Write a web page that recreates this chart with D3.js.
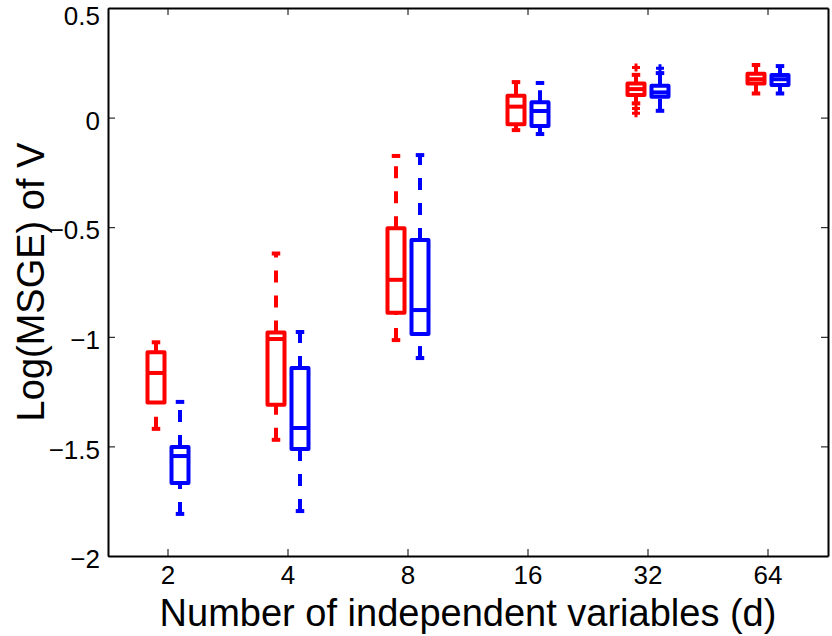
<!DOCTYPE html>
<html>
<head>
<meta charset="utf-8">
<script src="https://cdn.jsdelivr.net/npm/d3@7"></script>
<style>
  body { margin: 0; background: #fff; }
  text { font-family: "Liberation Sans", Arial, Helvetica, sans-serif; fill: #000; }
</style>
</head>
<body>
<div id="chart"></div>
<script>
const categories = ["2", "4", "8", "16", "32", "64"];
const yTicks = [-2, -1.5, -1, -0.5, 0, 0.5];

// each row: [lower whisker, q1, median, q3, upper whisker]
const redStats = [
  [-1.42, -1.30, -1.165, -1.07, -1.025],
  [-1.47, -1.31, -1.01, -0.98, -0.62],
  [-1.015, -0.89, -0.74, -0.505, -0.175],
  [-0.057, -0.03, 0.05, 0.10, 0.162],
  [0.065, 0.103, 0.13, 0.155, 0.195],
  [0.11, 0.156, 0.175, 0.20, 0.24]
];
const blueStats = [
  [-1.808, -1.667, -1.544, -1.503, -1.297],
  [-1.795, -1.512, -1.416, -1.142, -0.978],
  [-1.097, -0.987, -0.878, -0.558, -0.171],
  [-0.075, -0.038, 0.03, 0.07, 0.158],
  [0.031, 0.095, 0.115, 0.145, 0.203],
  [0.11, 0.149, 0.175, 0.194, 0.235]
];
const redOutliers = [[], [], [], [], [0.228, 0.042, 0.02], []];
const blueOutliers = [[], [], [], [], [0.225], []];

const width = 832, height = 636;
const plotLeft = 108, plotRight = 828, plotTop = 8, plotBottom = 556;

const svg = d3.select("#chart").append("svg")
  .attr("width", width)
  .attr("height", height);

const x = d3.scaleBand().domain(categories).range([plotLeft, plotRight]).padding(0);
const y = d3.scaleLinear().domain([-2, 0.5]).range([plotBottom, plotTop]);

// axes, MATLAB style box with inward ticks
function styleAxis(g) {
  g.select(".domain").attr("stroke", "#000").attr("stroke-width", 2);
  g.selectAll(".tick line").attr("stroke", "#000").attr("stroke-width", 1);
  g.selectAll(".tick text").attr("font-size", "26px").attr("fill", "#000")
    .attr("font-family", "'Liberation Sans', Arial, sans-serif");
}

svg.append("g")
  .attr("transform", `translate(0,${plotBottom})`)
  .call(d3.axisBottom(x).tickSizeInner(-7).tickSizeOuter(0).tickPadding(10))
  .call(styleAxis);

svg.append("g")
  .attr("transform", `translate(0,${plotTop})`)
  .call(d3.axisTop(x).tickSizeInner(-7).tickSizeOuter(0).tickFormat(""))
  .call(styleAxis);

svg.append("g")
  .attr("transform", `translate(${plotLeft},0)`)
  .call(d3.axisLeft(y).tickValues(yTicks).tickFormat(d3.format("")).tickSizeInner(-7).tickSizeOuter(0).tickPadding(8))
  .call(styleAxis)
  // top label sits a bit lower so it stays inside the page
  .call(g => g.selectAll(".tick text").attr("dy", d => d === 0.5 ? "0.62em" : "0.45em"));

svg.append("g")
  .attr("transform", `translate(${plotRight},0)`)
  .call(d3.axisRight(y).tickValues(yTicks).tickFormat("").tickSizeInner(-7).tickSizeOuter(0))
  .call(styleAxis);

// boxes
const boxW = 17, offset = 12, lw = 4;

function drawSeries(stats, outliers, color, dx) {
  const g = svg.append("g")
    .attr("stroke", color)
    .attr("stroke-width", lw)
    .attr("fill", "none");

  stats.forEach((s, i) => {
    const cx = x(categories[i]) + x.bandwidth() / 2 + dx;
    const [lo, q1, med, q3, hi] = s;

    // upper whisker runs from q3 upward, lower from the whisker end up to q1
    g.append("line")
      .attr("x1", cx).attr("x2", cx)
      .attr("y1", y(q3)).attr("y2", y(hi))
      .attr("stroke-dasharray", "12,13");
    g.append("line")
      .attr("x1", cx).attr("x2", cx)
      .attr("y1", y(lo)).attr("y2", y(q1))
      .attr("stroke-dasharray", "12,13");

    [lo, hi].forEach(v => {
      g.append("line")
        .attr("x1", cx - boxW / 4).attr("x2", cx + boxW / 4)
        .attr("y1", y(v)).attr("y2", y(v));
    });

    g.append("rect")
      .attr("x", cx - boxW / 2)
      .attr("y", y(q3))
      .attr("width", boxW)
      .attr("height", y(q1) - y(q3))
      .attr("stroke-linejoin", "round");

    g.append("line")
      .attr("x1", cx - boxW / 2).attr("x2", cx + boxW / 2)
      .attr("y1", y(med)).attr("y2", y(med));

    outliers[i].forEach(v => {
      g.append("path")
        .attr("stroke-width", 3)
        .attr("d", `M${cx - 4},${y(v)}H${cx + 4}M${cx},${y(v) - 4}V${y(v) + 4}`);
    });
  });
}

drawSeries(redStats, redOutliers, "#ff0000", -offset);
drawSeries(blueStats, blueOutliers, "#0000ff", offset);

// axis titles
svg.append("text")
  .attr("x", (plotLeft + plotRight) / 2)
  .attr("y", 626)
  .attr("text-anchor", "middle")
  .attr("font-size", "38px")
  .text("Number of independent variables (d)");

svg.append("text")
  .attr("transform", `translate(44,${(plotTop + plotBottom) / 2}) rotate(-90)`)
  .attr("text-anchor", "middle")
  .attr("font-size", "38px")
  .text("Log(MSGE) of V");
</script>
</body>
</html>
